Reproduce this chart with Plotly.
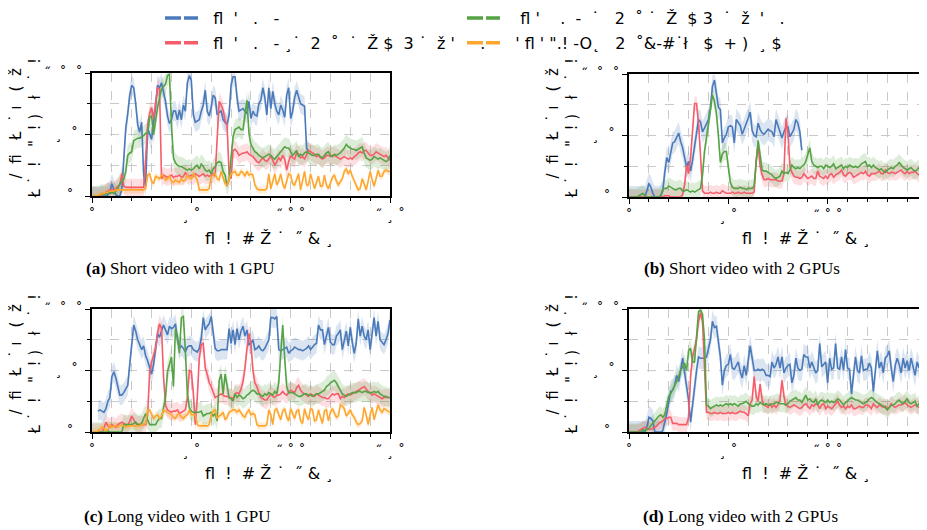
import plotly.graph_objects as go

X = list(range(151))

A_BLUE = [0,0,0,0,0,0,0,0,1,4,
          10,6,1,0,0,5,30,55,67,82,
          90,88,75,58,52,60,17,8,55,50,
          46,60,72,90,88,92,85,77,65,59,
          62,69,69,62,70,62,74,69,92,98,
          94,66,60,61,62,69,74,86,69,65,
          72,82,80,66,68,69,62,60,58,66,
          90,97,97,80,69,70,71,69,67,77,
          63,69,66,65,75,78,88,80,66,88,
          71,85,75,69,66,74,70,64,82,88,
          63,69,80,86,80,75,74,73,39,36]
A_RED = [0,0,0,0,0,1,2,3,4,5,
         5,5,6,8,9,18,8,7,7,7,
         7,7,7,7,7,7,7,30,58,67,
         72,63,74,88,87,14,17,16,15,16,
         17,15,16,16,17,15,16,19,17,16,
         17,16,18,17,16,17,18,16,17,16,
         17,18,16,50,77,74,70,61,58,18,
         14,37,38,36,33,34,35,35,36,34,
         33,32,30,28,27,29,31,29,28,30,
         33,29,25,28,31,29,33,30,21,28,
         33,31,30,35,34,31,32,30,33,37,
         36,35,34,32,33,31,30,31,33,33,
         32,33,33,32,31,30,31,32,31,30,
         31,30,32,33,35,36,35,37,37,35,
         33,33,34,36,35,34,33,32,33,31,
         29]
A_GREEN = [0,0,0,0,1,2,1,2,3,2,
           3,2,4,6,10,12,14,20,33,35,
           36,45,46,47,47,48,49,51,51,64,
           65,50,62,72,80,87,89,91,98,99,
           58,31,27,25,24,24,23,22,21,22,
           21,22,24,25,22,26,24,21,20,21,
           18,22,24,27,28,27,20,17,8,14,
           30,48,54,55,56,54,54,66,78,51,
           42,39,36,35,33,32,31,32,33,34,
           33,31,30,32,34,36,38,40,39,39,
           36,33,35,37,32,34,33,35,36,35,
           34,33,33,34,34,32,31,33,35,36,
           33,32,34,33,34,35,37,39,42,40,
           39,38,38,37,38,39,40,35,31,30,
           29,30,32,31,30,31,30,29,28,29,
           33]
A_ORANGE = [0,0,0,1,1,2,2,3,3,4,
            4,4,5,5,5,5,5,5,5,5,
            5,5,5,5,5,5,5,6,17,18,
            12,10,16,15,14,17,16,13,14,16,
            12,11,13,12,11,14,12,13,17,15,
            14,18,16,13,5,5,5,5,5,6,
            16,17,18,14,13,20,15,10,9,13,
            18,19,20,17,17,20,19,16,20,17,
            18,17,9,6,5,5,5,5,6,18,
            6,12,18,9,12,18,10,6,12,18,
            17,10,9,14,18,5,12,20,9,9,
            18,12,6,11,16,8,8,17,9,6,
            11,15,17,12,9,12,14,20,22,18,
            21,16,12,8,5,6,14,10,5,12,
            20,13,8,14,21,16,16,20,21,20,
            20]

B_BLUE = [0,0,0,0,0,0,0,0,0,5,
          11,8,3,0,0,0,1,5,20,32,
          28,37,44,45,48,52,45,40,32,24,
          29,21,30,41,55,63,61,53,56,60,
          63,72,90,95,85,73,71,44,48,51,
          57,58,57,44,63,60,58,51,55,60,
          64,69,54,50,49,60,55,52,51,53,
          55,54,53,49,63,58,52,48,53,57,
          57,49,52,55,63,60,53,38]
B_RED = [0,0,0,0,0,0,0,0,0,0,
         0,0,0,0,0,0,0,0,1,1,
         1,0,0,0,0,0,0,2,10,26,
         19,32,51,76,76,60,34,5,3,3,
         3,4,3,3,4,3,3,5,4,3,
         3,3,4,3,3,4,3,3,4,3,
         3,3,3,4,30,42,25,18,14,14,
         15,14,14,14,14,13,13,13,19,64,
         52,25,20,17,16,16,15,16,19,17,
         15,16,17,15,15,21,17,16,15,17,
         15,18,19,16,18,19,20,22,18,17,
         19,20,19,16,17,18,19,20,19,21,
         18,17,19,19,19,20,21,19,19,22,
         20,19,20,20,19,20,21,22,20,19,
         21,19,20,20,21,19,18,17,19,18,
         18]
B_GREEN = [0,0,0,0,0,1,2,3,1,0,
           0,0,0,0,0,0,1,6,7,7,
           9,8,7,6,6,7,7,5,5,6,
           5,4,5,4,5,6,7,18,37,48,
           60,75,83,78,68,50,28,35,37,37,
           25,12,8,7,7,7,8,7,7,6,
           7,7,7,9,26,46,34,22,21,21,
           20,19,18,16,15,16,17,21,19,20,
           19,22,26,24,23,24,23,25,26,29,
           35,40,29,26,25,24,25,25,23,26,
           25,24,25,27,23,24,25,26,23,25,
           24,26,25,24,25,24,25,27,28,29,
           25,26,24,26,24,23,22,23,21,20,
           22,23,24,23,25,26,28,26,24,23,
           22,23,24,22,21,22,24,25,24,24,
           25]

C_BLUE = [None,None,None,17,18,17,16,19,25,28,
          45,49,44,37,30,30,32,35,38,55,
          71,87,82,75,71,67,70,62,58,53,
          47,55,68,80,77,82,87,83,79,86,
          84,85,88,75,68,70,68,65,69,70,
          70,67,66,65,68,76,93,83,86,88,
          94,78,68,66,66,67,67,67,67,84,
          72,83,71,84,75,82,86,78,83,71,
          72,75,67,68,70,67,66,68,71,75,
          93,93,92,94,67,66,67,68,69,64,
          66,67,69,68,67,67,66,67,68,70,
          67,69,71,72,87,83,83,71,78,85,
          73,71,71,78,80,83,67,75,82,70,
          85,73,64,72,92,78,86,78,75,83,
          67,80,93,78,90,75,73,71,75,80,
          91]
C_RED = [0,0,0,0,0,0,3,8,5,4,
         6,5,4,6,7,8,7,6,5,9,
         13,10,7,6,6,6,6,6,14,48,
         57,62,68,80,88,84,45,22,18,17,
         16,17,17,18,15,16,17,18,28,50,
         49,32,6,28,60,71,72,52,47,40,
         37,32,28,29,30,31,30,29,29,28,
         28,27,31,32,31,35,41,52,68,80,
         72,50,40,37,32,28,27,26,26,29,
         31,29,28,30,30,31,33,31,30,32,
         34,33,32,36,38,34,32,31,30,29,
         31,30,29,31,30,29,28,28,27,27,
         29,31,30,31,31,27,29,28,30,31,
         30,31,32,33,34,35,36,37,35,33,
         32,30,31,30,29,28,27,28,28,28,
         28]
C_GREEN = [0,0,0,0,0,0,0,0,1,0,
           0,0,0,0,0,0,6,6,6,6,
           6,7,8,6,6,7,11,15,10,6,
           6,6,6,9,11,11,21,28,49,56,
           61,37,84,78,64,93,94,66,31,20,
           17,16,16,16,16,17,13,14,15,15,
           16,13,15,9,42,47,31,47,36,28,
           27,25,31,28,30,29,27,28,30,31,
           33,34,33,31,31,30,29,31,30,32,
           31,30,33,31,40,67,87,60,37,32,
           32,32,31,30,29,29,30,31,31,30,
           30,29,30,31,31,32,33,34,37,38,
           40,41,42,40,37,34,31,30,29,30,
           31,32,32,32,33,33,32,33,33,32,
           32,32,33,32,33,31,30,29,29,28,
           28]
C_ORANGE = [0,0,0,1,2,4,3,1,2,6,
            4,5,5,4,5,6,5,4,5,5,
            5,5,5,5,5,6,6,7,18,18,
            14,11,13,14,11,13,18,17,16,15,
            14,12,11,14,15,12,11,13,14,18,
            14,14,14,6,5,5,5,5,5,6,
            14,17,18,11,13,14,16,10,12,16,
            17,18,18,16,18,15,13,12,16,18,
            14,15,14,6,5,5,5,5,6,18,
            14,6,18,19,14,10,17,19,12,9,
            19,15,11,17,18,9,7,19,13,10,
            19,18,9,10,18,12,7,17,18,9,
            16,19,16,12,13,22,21,19,13,15,
            18,14,12,8,6,7,9,20,14,6,
            14,20,10,15,22,18,16,19,18,17,
            16]

D_BLUE = [0,0,0,0,0,0,0,0,0,4,
          12,11,9,0,0,0,0,1,7,15,
          24,33,34,38,46,41,50,60,48,37,
          26,8,23,37,50,61,60,60,60,61,
          68,75,90,85,86,72,61,38,50,54,
          55,63,52,51,54,57,49,44,54,46,
          58,70,60,50,50,51,50,51,50,46,
          46,45,57,52,55,61,52,61,48,52,
          54,55,40,46,60,52,50,51,63,61,
          61,52,57,52,48,50,72,53,55,57,
          40,60,51,52,72,52,51,61,50,67,
          52,51,31,48,61,50,48,62,50,51,
          51,56,52,33,50,66,52,57,48,60,
          62,66,52,41,54,60,55,48,60,52,
          58,50,60,52,46,57,52,65,55,42,
          42]
D_RED = [0,0,0,0,0,1,2,3,4,3,
         2,2,3,4,5,7,8,9,11,11,
         12,12,7,7,7,6,6,6,6,6,
         12,45,61,67,75,90,97,90,53,16,
         16,15,15,16,15,15,16,15,15,15,
         16,15,16,15,15,16,17,16,16,15,
         13,23,26,45,29,25,39,26,22,21,
         20,23,20,22,20,22,26,42,29,22,
         21,20,21,22,21,20,19,20,22,23,
         21,19,22,21,23,22,19,22,23,19,
         21,20,19,21,23,25,22,20,21,19,
         21,20,22,19,19,20,21,20,20,22,
         22,21,19,23,21,20,22,21,20,21,
         19,20,23,21,20,21,22,22,23,24,
         22,21,20,21,22,21,20,21,22,19,
         19]
D_GREEN = [0,0,0,0,0,0,0,2,1,2,
           3,5,7,9,11,13,14,12,14,22,
           29,31,35,38,41,46,50,53,56,50,
           66,68,57,57,78,98,99,96,75,22,
           21,19,20,21,22,21,22,21,22,23,
           22,23,22,23,22,21,23,23,24,25,
           23,22,21,21,23,22,24,23,22,23,
           22,22,23,23,24,24,23,23,23,22,
           23,25,26,27,28,26,26,24,27,30,
           26,27,25,24,27,22,25,26,25,24,
           26,24,25,24,25,27,26,24,22,24,
           25,27,28,27,26,26,25,24,23,24,
           25,27,28,27,25,24,23,22,21,20,
           18,20,22,22,23,25,26,24,23,25,
           27,24,23,24,25,21,23,24,24,23,
           23]

# half-width of shaded band per panel / series
SPREAD_A = {"blue": 8, "red": 7, "green": 8, "orange": 3}
SPREAD_B = {"blue": 9, "red": 6, "green": 7}
SPREAD_C = {"blue": 8, "red": 7, "green": 8, "orange": 3}
SPREAD_D = {"blue": 9, "red": 6, "green": 7}

# text glyphs (as they appear in the reference) with their offsets in px
LEG_BLUE = [("fl", 12), ("'", 31), (".", 50), ("-", 69)]
LEG_RED = [("fl", 12), ("'", 31), (".", 50), ("-", 69), ("¸", 78), ("˙", 88), ("2", 108),
           ("˚", 125), ("˙", 143), ("Ž", 162), ("$", 180), ("3", 198), ("˙", 217),
           ("ž", 233), ("'", 248), (".", 275)]
LEG_GREEN = [("fl", 15), ("'", 31), (".", 52), ("-", 70), ("˙", 88), ("2", 110), ("˚", 127),
             ("˙", 143), ("Ž", 162), ("$", 182), ("3", 198), ("˙", 217), ("ž", 235),
             ("'", 253), (".", 273)]
LEG_ORANGE = [("'", 8), ("fl", 20), ("'", 34), ('"', 43), (".", 50), ("!", 56), ("-", 68),
              ("O", 74), ("˛", 85), ("2", 108), ("˚", 127), ("&", 133), ("-", 142), ("#", 152),
              ("˙", 164), ("ł", 178), ("$", 198), ("+", 218), (")", 235), ("¸", 253), ("$", 267)]
X_TITLE_G = [("fl", 0), ("!", 17), ("#", 34), ("Ž", 53), ("˙", 71), ("˝", 87), ("&", 102), ("¸", 120)]
Y_TITLE_G1 = [("/", 18), ("fi", 36), ("Ł", 56), ("˙", 74), ("ı", 88), ("(", 106), ("ž", 122)]
Y_TITLE_G2 = [("Ł", 0), ("˙", 15), ("!", 31), ('"', 50), ("!", 66), (")", 78), ("ł", 99),
              ("˙", 115), ("!", 131)]
X_TICKS = [0, 50, 100, 150]
X_TICK_TEXT = ["˚", "¸\u00a0˚", "˝\u00a0˚\u00a0˚", "˝\u00a0¸\u00a0˚"]
Y_TICKS = [0, 50, 100]
Y_TICK_TEXT = ["˚\u00a0\u00a0", "¸\u00a0\u00a0˚\u00a0", "˝\u00a0\u00a0˚\u00a0\u00a0˚"]
CAPTIONS = ["<b>(a)</b> Short video with 1 GPU", "<b>(b)</b> Short video with 2 GPUs",
            "<b>(c)</b> Long video with 1 GPU", "<b>(d)</b> Long video with 2 GPUs"]

COLORS = {"blue": (74, 122, 186), "red": (246, 92, 106), "green": (86, 163, 70), "orange": (255, 166, 46)}

# approximate advance widths (em) in DejaVu Sans, used to space glyphs with no-break spaces
GW = {"fl": 0.58, "fi": 0.58, "'": 0.275, '"': 0.401, ".": 0.318, "-": 0.361, "˙": 0.5,
      "˚": 0.5, "˝": 0.5, "¸": 0.5, "˛": 0.5, "2": 0.636, "3": 0.636, "$": 0.636,
      "Ž": 0.685, "ž": 0.525, "!": 0.401, "O": 0.787, "&": 0.78, "#": 0.838, "+": 0.838,
      ")": 0.39, "(": 0.39, "ł": 0.3, "ı": 0.278, "Ł": 0.557, "/": 0.337}
NB = 0.318

def spaced(items, size):
    s, cur = "", 0.0
    for g, pos in items:
        n = max(0, round((pos - cur) / (NB * size)))
        s += "\u00a0" * n + g
        cur += n * NB * size + GW.get(g, 0.6) * size
    return s

W, H = 927, 530
OFF = 8  # page offset of the figure inside the browser window
def px(v): return (v - OFF) / W
def py(v): return 1 - (v - OFF) / H

panels = [
    ("x", "y", {"blue": A_BLUE, "red": A_RED, "green": A_GREEN, "orange": A_ORANGE}, SPREAD_A),
    ("x2", "y2", {"blue": B_BLUE, "red": B_RED, "green": B_GREEN}, SPREAD_B),
    ("x3", "y3", {"blue": C_BLUE, "red": C_RED, "green": C_GREEN, "orange": C_ORANGE}, SPREAD_C),
    ("x4", "y4", {"blue": D_BLUE, "red": D_RED, "green": D_GREEN}, SPREAD_D),
]

fig = go.Figure()
for xa, ya, series, spread in panels:
    for key, ys in series.items():
        xs = [X[i] for i, v in enumerate(ys) if v is not None]
        vals = [v for v in ys if v is not None]
        s = spread[key]
        up = [min(100, v + s) for v in vals]
        lo = [max(0, v - s) for v in vals]
        r, g, b = COLORS[key]
        fig.add_trace(go.Scatter(x=xs, y=up, xaxis=xa, yaxis=ya, mode="lines",
                                 line=dict(width=0), showlegend=False, hoverinfo="skip"))
        fig.add_trace(go.Scatter(x=xs, y=lo, xaxis=xa, yaxis=ya, mode="lines",
                                 line=dict(width=0), fill="tonexty",
                                 fillcolor=f"rgba({r},{g},{b},0.2)",
                                 showlegend=False, hoverinfo="skip"))
    for key, ys in series.items():
        xs = [X[i] for i, v in enumerate(ys) if v is not None]
        vals = [v for v in ys if v is not None]
        r, g, b = COLORS[key]
        fig.add_trace(go.Scatter(x=xs, y=vals, xaxis=xa, yaxis=ya, mode="lines",
                                 line=dict(color=f"rgb({r},{g},{b})", width=1.6),
                                 showlegend=False))

LEG_SIZE = 16
legend_items = [("blue", "legend", LEG_BLUE), ("red", "legend", LEG_RED),
                ("green", "legend2", LEG_GREEN), ("orange", "legend2", LEG_ORANGE)]
for key, leg, glyphs in legend_items:
    r, g, b = COLORS[key]
    fig.add_trace(go.Scatter(x=[None], y=[None], mode="lines", name=spaced(glyphs, LEG_SIZE),
                             line=dict(color=f"rgb({r},{g},{b})", width=3.5, dash="16px,3px"),
                             legend=leg, legendgroup=key, showlegend=True))

grid = "#c9c9c9"
tickfont = dict(family="DejaVu Sans", size=14, color="black")
def xcfg(x0, x1, anchor):
    return dict(domain=[px(x0), min(1, px(x1))], anchor=anchor, range=[0, 150], automargin=False,
                tickmode="array", tickvals=X_TICKS, ticktext=X_TICK_TEXT,
                ticks="outside", ticklen=5, tickwidth=1, tickcolor="black",
                showline=True, linecolor="black", linewidth=1.5, mirror=True,
                showgrid=True, gridcolor=grid, griddash="dash", gridwidth=1, zeroline=False,
                minor=dict(dtick=10, tick0=0, ticks="outside", ticklen=3, tickcolor="black",
                           showgrid=True, gridcolor=grid, griddash="dash"),
                tickfont=tickfont, tickangle=0)
def ycfg(y_top, y_bot, anchor):
    return dict(domain=[py(y_bot), py(y_top)], anchor=anchor, range=[0, 100], automargin=False,
                tickmode="array", tickvals=Y_TICKS, ticktext=Y_TICK_TEXT,
                ticks="outside", ticklen=5, tickwidth=1, tickcolor="black",
                showline=True, linecolor="black", linewidth=1.5, mirror=True,
                showgrid=True, gridcolor=grid, griddash="dash", gridwidth=1, zeroline=False,
                minor=dict(dtick=25, tick0=0, ticks="outside", ticklen=3, tickcolor="black",
                           showgrid=True, gridcolor=grid, griddash="dash"),
                tickfont=tickfont)

legfont = dict(family="DejaVu Sans", size=LEG_SIZE, color="black")
LEG_Y = 1 + 7 / H
fig.update_layout(
    width=W, height=H, margin=dict(l=0, r=0, t=0, b=0, autoexpand=False),
    paper_bgcolor="white", plot_bgcolor="white",
    xaxis=xcfg(92, 390, "y"), yaxis=ycfg(73, 196, "x"),
    xaxis2=xcfg(629, 927, "y2"), yaxis2=ycfg(74, 197, "x2"),
    xaxis3=xcfg(92, 390, "y3"), yaxis3=ycfg(309, 432, "x3"),
    xaxis4=xcfg(629, 927, "y4"), yaxis4=ycfg(309, 432, "x4"),
    legend=dict(x=px(160), y=LEG_Y, xanchor="left", yanchor="top", bgcolor="rgba(0,0,0,0)",
                font=legfont, itemwidth=33, tracegroupgap=1, traceorder="grouped"),
    legend2=dict(x=px(462), y=LEG_Y, xanchor="left", yanchor="top", bgcolor="rgba(0,0,0,0)",
                 font=legfont, itemwidth=33, tracegroupgap=1, traceorder="grouped"),
)

ann = []
TS = 16
title_font = dict(family="DejaVu Sans", size=TS, color="black")
x_title = spaced(X_TITLE_G, TS)
for (xl, yc) in [(203, 238), (740, 238), (203, 473), (740, 473)]:
    ann.append(dict(x=px(xl), y=py(yc), xref="paper", yref="paper", text=x_title,
                    showarrow=False, xanchor="left", yanchor="middle", font=title_font))
YS = 15
y_title = spaced(Y_TITLE_G1, YS) + "<br>" + spaced(Y_TITLE_G2, YS)
for (xc, yb) in [(25, 201), (562, 201), (25, 437), (562, 437)]:
    ann.append(dict(x=px(xc), y=py(yb), xref="paper", yref="paper", text=y_title,
                    textangle=-90, showarrow=False, xanchor="center", yanchor="bottom",
                    align="left", font=dict(family="DejaVu Sans", size=YS, color="black")))
cap_font = dict(family="Liberation Serif", size=17, color="black")
for text, (xc, yc) in zip(CAPTIONS, [(180, 268), (742, 268), (177, 516), (740, 516)]):
    ann.append(dict(x=px(xc), y=py(yc), xref="paper", yref="paper", text=text,
                    showarrow=False, xanchor="center", yanchor="middle", font=cap_font))
fig.update_layout(annotations=ann)

fig.write_html("out.html")
